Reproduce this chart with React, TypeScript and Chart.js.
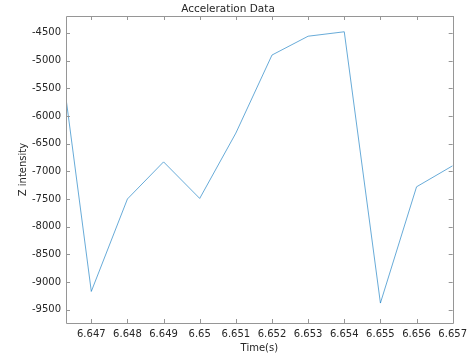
import React, { useEffect, useRef } from "react";
import { Chart, registerables } from "chart.js";

Chart.register(...registerables);

const times = [6.6463, 6.647, 6.648, 6.649, 6.65, 6.651, 6.652, 6.653, 6.654, 6.655, 6.656, 6.657];
const zValues = [-5680, -9170, -7500, -6830, -7490, -6310, -4900, -4560, -4480, -9380, -7280, -6900];
const xTicks = [6.647, 6.648, 6.649, 6.65, 6.651, 6.652, 6.653, 6.654, 6.655, 6.656, 6.657];
const yTicks = [-9500, -9000, -8500, -8000, -7500, -7000, -6500, -6000, -5500, -5000, -4500];

const textColor = "#262626";
const axisColor = "rgb(150,150,150)";
const fontFamily = "'DejaVu Sans', sans-serif";

const boxPlugin = {
  id: "matlabBox",
  afterDraw(chart: any) {
    const { ctx, chartArea } = chart;
    const { left, right, top, bottom } = chartArea;
    const xs = chart.scales.x;
    const ys = chart.scales.y;
    const tl = 4;
    ctx.save();
    ctx.strokeStyle = axisColor;
    ctx.lineWidth = 1;
    ctx.beginPath();
    ctx.rect(Math.round(left) + 0.5, Math.round(top) + 0.5, Math.round(right - left), Math.round(bottom - top));
    for (const v of xTicks) {
      const px = Math.round(xs.getPixelForValue(v)) + 0.5;
      ctx.moveTo(px, bottom);
      ctx.lineTo(px, bottom - tl);
      ctx.moveTo(px, top);
      ctx.lineTo(px, top + tl);
    }
    for (const v of yTicks) {
      const py = Math.round(ys.getPixelForValue(v)) + 0.5;
      ctx.moveTo(left, py);
      ctx.lineTo(left + tl, py);
      ctx.moveTo(right, py);
      ctx.lineTo(right - tl, py);
    }
    ctx.stroke();
    ctx.restore();
  },
};

export default function App() {
  const ref = useRef<HTMLCanvasElement | null>(null);
  useEffect(() => {
    if (!ref.current) return;
    const chart = new Chart(ref.current, {
      type: "line",
      data: {
        datasets: [
          {
            label: "Z",
            data: times.map((t, i) => ({ x: t, y: zValues[i] })),
            borderColor: "#0072BD",
            borderWidth: 0.6,
            pointRadius: 0,
            fill: false,
            tension: 0,
          },
        ],
      },
      options: {
        animation: false,
        responsive: false,
        layout: { padding: { left: 0, right: 16, top: 0, bottom: 0 } },
        plugins: {
          legend: { display: false },
          tooltip: { enabled: false },
          title: {
            display: true,
            text: "Acceleration Data",
            color: textColor,
            font: { family: fontFamily, size: 10.5, weight: "normal" },
            padding: { top: 3, bottom: 0.4 },
          },
        },
        scales: {
          x: {
            type: "linear",
            min: 6.6463,
            max: 6.657,
            afterBuildTicks: (s: any) => {
              s.ticks = xTicks.map((v) => ({ value: v }));
            },
            afterFit: (s: any) => {
              s.height = 37;
            },
            grid: { display: false, drawTicks: false },
            border: { display: false },
            ticks: {
              color: textColor,
              font: { family: fontFamily, size: 10 },
              padding: 5,
              maxRotation: 0,
              autoSkip: false,
              callback: (v: any) => String(Number(Number(v).toFixed(3))),
            },
            title: {
              display: true,
              text: "Time(s)",
              color: textColor,
              font: { family: fontFamily, size: 10 },
              padding: { top: 0, bottom: 6 },
            },
          },
          y: {
            type: "linear",
            min: -9740,
            max: -4195,
            afterBuildTicks: (s: any) => {
              s.ticks = yTicks.map((v) => ({ value: v }));
            },
            afterFit: (s: any) => {
              s.width = 66;
            },
            grid: { display: false, drawTicks: false },
            border: { display: false },
            ticks: {
              color: textColor,
              font: { family: fontFamily, size: 10 },
              padding: 5,
              autoSkip: false,
              callback: (v: any) => String(v),
            },
            title: {
              display: true,
              text: "Z intensity",
              color: textColor,
              font: { family: fontFamily, size: 10 },
              padding: { top: 17, bottom: 0 },
            },
          },
        },
      },
      plugins: [boxPlugin],
    });
    return () => chart.destroy();
  }, []);
  return (
    <div style={{ position: "absolute", left: 0, top: 0, width: 472, height: 360, background: "#fff" }}>
      <canvas ref={ref} width={472} height={360} style={{ display: "block" }} />
    </div>
  );
}
